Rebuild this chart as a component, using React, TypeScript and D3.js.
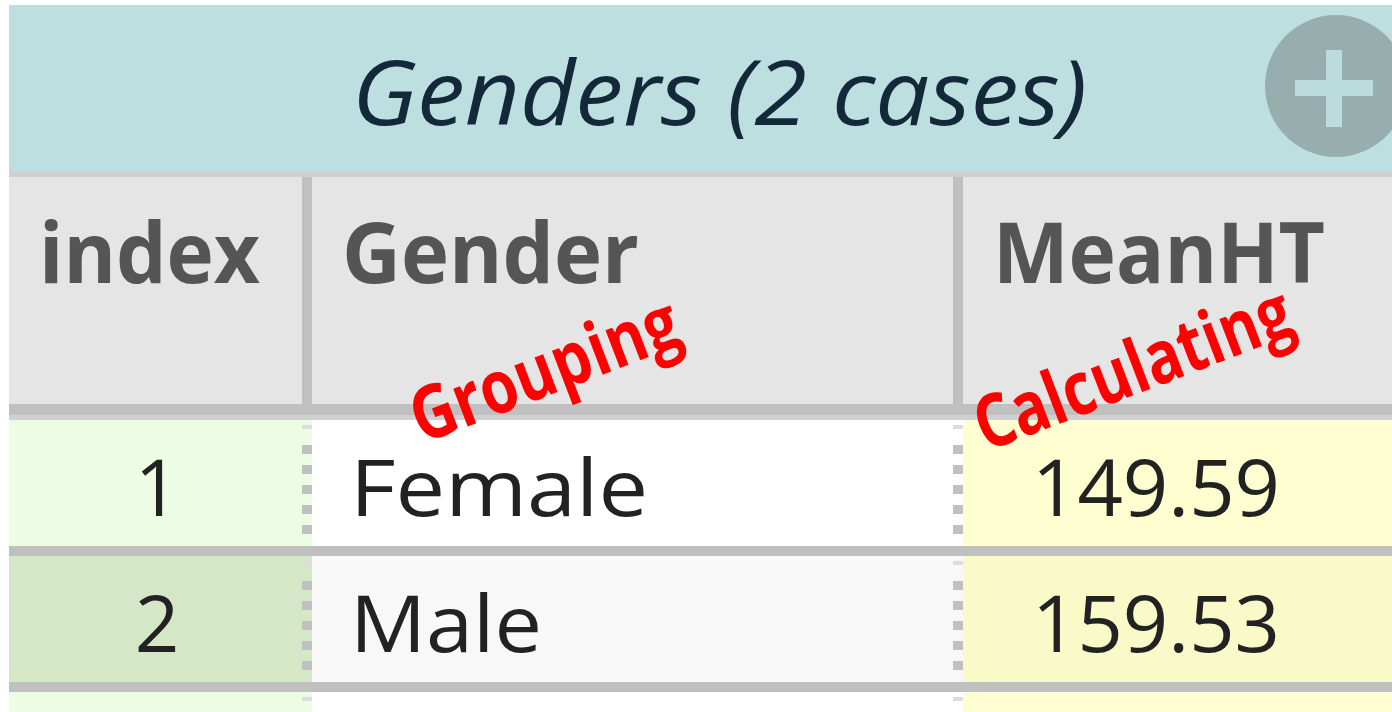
import React from "react";
import * as d3 from "d3";

const tableTitle = "Genders (2 cases)";
const columnHeaders = ["index", "Gender", "MeanHT"];
const rowIndex = [1, 2];
const genders = ["Female", "Male"];
const meanHT = [149.59, 159.53];
const annotations = ["Grouping", "Calculating"];

const W = 1392;
const H = 712;

export default function App() {
  const left = 9;
  const top = 5;
  const colEdges = [left, 312, 963, W];
  const headerTop = 177;
  const headerBottom = 404;
  const rowsTop = 420;
  const rowH = 126;
  const divH = 10;

  const rowY = d3.scaleLinear().domain([0, 1]).range([rowsTop, rowsTop + rowH + divH]);
  const fmt = d3.format(".2f");

  const idxBg = ["#edfde3", "#d4e8c8", "#edfde3"];
  const genBg = ["#ffffff", "#f8f8f8", "#ffffff"];
  const valBg = ["#fefed0", "#fafac8", "#fefed0"];

  const headerTextX = [39, 342, 993];
  const headerLens = [221, 297, 332];
  const rowsCount = 3;

  const dashes = (x: number, y0: number, y1: number, key: string) =>
    d3.range(y0 + 25, y1 - 5, 20).map((y, i) => (
      <rect key={key + i} x={x} y={y} width={10} height={9} fill="#c0c0c0" />
    ));

  return (
    <svg
      width={W}
      height={H}
      style={{ position: "absolute", left: 0, top: 0, display: "block", background: "#ffffff" }}
    >
      {/* title bar */}
      <rect x={left} y={top} width={W - left} height={167} fill="#bddfe0" />
      <rect x={left} y={172} width={W - left} height={5} fill="#d0d0d0" />
      <text
        x={352}
        y={125}
        fontFamily="'Open Sans', sans-serif"
        fontStyle="italic"
        fontSize={90}
        fill="#13293a"
        textLength={735}
        lengthAdjust="spacingAndGlyphs"
      >
        {tableTitle}
      </text>
      <circle cx={1336} cy={86} r={71} fill="#98aeae" />
      <rect x={1295} y={80} width={78} height={16} fill="#bcdcdc" />
      <rect x={1326} y={50} width={16} height={77} fill="#bcdcdc" />

      {/* header row */}
      <rect x={left} y={headerTop} width={W - left} height={headerBottom - headerTop} fill="#e5e5e5" />
      <rect x={302} y={headerTop} width={10} height={headerBottom - headerTop} fill="#c0c0c0" />
      <rect x={953} y={headerTop} width={10} height={headerBottom - headerTop} fill="#c0c0c0" />
      <rect x={left} y={headerBottom} width={W - left} height={11} fill="#c0c0c0" />
      <rect x={left} y={415} width={W - left} height={5} fill="#d0d0d0" />
      {columnHeaders.map((h, i) => (
        <text
          key={h}
          x={headerTextX[i]}
          y={283}
          fontFamily="'Open Sans', sans-serif"
          fontWeight={700}
          fontSize={84}
          fill="#555555"
          textLength={headerLens[i]}
          lengthAdjust="spacingAndGlyphs"
        >
          {h}
        </text>
      ))}

      {/* body rows */}
      {d3.range(rowsCount).map((r) => {
        const y0 = rowY(r);
        const y1 = Math.min(y0 + rowH, H);
        return (
          <g key={"row" + r}>
            <rect x={colEdges[0]} y={y0} width={colEdges[1] - colEdges[0]} height={y1 - y0} fill={idxBg[r]} />
            <rect x={colEdges[1]} y={y0} width={colEdges[2] - colEdges[1]} height={y1 - y0} fill={genBg[r]} />
            <rect x={colEdges[2]} y={y0} width={colEdges[3] - colEdges[2]} height={y1 - y0} fill={valBg[r]} />
            <rect x={302} y={y0 + 5} width={10} height={4} fill="#dcdcdc" />
            <rect x={953} y={y0 + 5} width={10} height={4} fill="#dcdcdc" />
            {dashes(302, y0, y1, "a" + r)}
            {dashes(953, y0, y1, "b" + r)}
            {y0 + rowH < H && (
              <rect x={left} y={y0 + rowH} width={W - left} height={divH} fill="#c0c0c0" />
            )}
          </g>
        );
      })}

      {rowIndex.map((v, i) => (
        <text
          key={"idx" + v}
          x={157}
          y={rowY(i) + 96}
          textAnchor="middle"
          fontFamily="'Open Sans', sans-serif"
          fontSize={78}
          fill="#222222"
        >
          {v}
        </text>
      ))}
      {genders.map((g, i) => (
        <text
          key={g}
          x={350}
          y={rowY(i) + 96}
          fontFamily="'Open Sans', sans-serif"
          fontSize={78}
          fill="#222222"
          textLength={g === "Female" ? 298 : 192}
          lengthAdjust="spacingAndGlyphs"
        >
          {g}
        </text>
      ))}
      {meanHT.map((v, i) => (
        <text
          key={"m" + i}
          x={1032}
          y={rowY(i) + 96}
          fontFamily="'Open Sans', sans-serif"
          fontSize={78}
          fill="#222222"
          textLength={248}
          lengthAdjust="spacingAndGlyphs"
        >
          {fmt(v)}
        </text>
      ))}

      {/* annotations */}
      <text
        transform="translate(422,444) rotate(-21)"
        fontFamily="'Open Sans', sans-serif"
        fontWeight={700}
        fontSize={74}
        fill="#ff0000"
        textLength={282}
        lengthAdjust="spacingAndGlyphs"
      >
        {annotations[0]}
      </text>
      <text
        transform="translate(986,452) rotate(-21)"
        fontFamily="'Open Sans', sans-serif"
        fontWeight={700}
        fontSize={74}
        fill="#ff0000"
        textLength={334}
        lengthAdjust="spacingAndGlyphs"
      >
        {annotations[1]}
      </text>
    </svg>
  );
}
